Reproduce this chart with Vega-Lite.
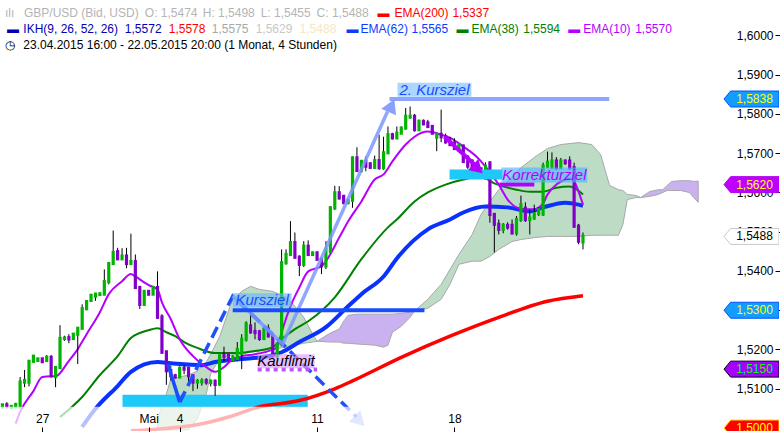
{
"$schema":"https://vega.github.io/schema/vega-lite/v6.json",
"width":780,"height":432,
"autosize":{"type":"fit","contains":"padding"},
"padding":0,
"background":"#ffffff",
"config":{"view":{"stroke":null},"font":"Liberation Sans"},
"resolve":{"scale":{"color":"independent","fill":"independent","stroke":"independent"}},
"datasets":{
"candles":[
{"i":0,"o":1.5056,"h":1.5061,"l":1.5049,"c":1.5059},
{"i":1,"o":1.5059,"h":1.5066,"l":1.5049,"c":1.5056},
{"i":2,"o":1.5053,"h":1.5057,"l":1.5049,"c":1.5055},
{"i":3,"o":1.5055,"h":1.5064,"l":1.5050,"c":1.5060},
{"i":4,"o":1.5054,"h":1.5130,"l":1.5050,"c":1.5117},
{"i":5,"o":1.5117,"h":1.5148,"l":1.5104,"c":1.5121},
{"i":6,"o":1.5117,"h":1.5172,"l":1.5106,"c":1.5170},
{"i":7,"o":1.5170,"h":1.5186,"l":1.5167,"c":1.5183},
{"i":8,"o":1.5172,"h":1.5179,"l":1.5170,"c":1.5176},
{"i":9,"o":1.5176,"h":1.5178,"l":1.5167,"c":1.5169},
{"i":10,"o":1.5172,"h":1.5186,"l":1.5169,"c":1.5180},
{"i":11,"o":1.5180,"h":1.5186,"l":1.5129,"c":1.5133},
{"i":12,"o":1.5131,"h":1.5154,"l":1.5104,"c":1.5154},
{"i":13,"o":1.5154,"h":1.5262,"l":1.5152,"c":1.5228},
{"i":14,"o":1.5228,"h":1.5235,"l":1.5222,"c":1.5229},
{"i":15,"o":1.5230,"h":1.5239,"l":1.5216,"c":1.5227},
{"i":16,"o":1.5228,"h":1.5242,"l":1.5226,"c":1.5239},
{"i":17,"o":1.5239,"h":1.5255,"l":1.5163,"c":1.5254},
{"i":18,"o":1.5254,"h":1.5315,"l":1.5252,"c":1.5304},
{"i":19,"o":1.5304,"h":1.5325,"l":1.5300,"c":1.5322},
{"i":20,"o":1.5325,"h":1.5341,"l":1.5323,"c":1.5338},
{"i":21,"o":1.5336,"h":1.5344,"l":1.5324,"c":1.5341},
{"i":22,"o":1.5340,"h":1.5344,"l":1.5338,"c":1.5342},
{"i":23,"o":1.5341,"h":1.5404,"l":1.5339,"c":1.5373},
{"i":24,"o":1.5373,"h":1.5421,"l":1.5366,"c":1.5419},
{"i":25,"o":1.5419,"h":1.5503,"l":1.5417,"c":1.5447},
{"i":26,"o":1.5449,"h":1.5459,"l":1.5430,"c":1.5431},
{"i":27,"o":1.5431,"h":1.5458,"l":1.5428,"c":1.5438},
{"i":28,"o":1.5438,"h":1.5459,"l":1.5407,"c":1.5419},
{"i":29,"o":1.5419,"h":1.5495,"l":1.5417,"c":1.5424},
{"i":30,"o":1.5424,"h":1.5442,"l":1.5356,"c":1.5358},
{"i":31,"o":1.5358,"h":1.5360,"l":1.5303,"c":1.5315},
{"i":32,"o":1.5315,"h":1.5349,"l":1.5311,"c":1.5348},
{"i":33,"o":1.5348,"h":1.5350,"l":1.5338,"c":1.5341},
{"i":34,"o":1.5341,"h":1.5360,"l":1.5339,"c":1.5358},
{"i":35,"o":1.5358,"h":1.5399,"l":1.5280,"c":1.5282},
{"i":36,"o":1.5283,"h":1.5290,"l":1.5190,"c":1.5193},
{"i":37,"o":1.5194,"h":1.5196,"l":1.5110,"c":1.5146},
{"i":38,"o":1.5146,"h":1.5159,"l":1.5121,"c":1.5133},
{"i":39,"o":1.5133,"h":1.5138,"l":1.5126,"c":1.5130},
{"i":40,"o":1.5130,"h":1.5157,"l":1.5128,"c":1.5152},
{"i":41,"o":1.5152,"h":1.5160,"l":1.5137,"c":1.5150},
{"i":42,"o":1.5152,"h":1.5155,"l":1.5112,"c":1.5133},
{"i":43,"o":1.5133,"h":1.5135,"l":1.5094,"c":1.5117},
{"i":44,"o":1.5117,"h":1.5125,"l":1.5100,"c":1.5119},
{"i":45,"o":1.5118,"h":1.5127,"l":1.5108,"c":1.5120},
{"i":46,"o":1.5121,"h":1.5127,"l":1.5110,"c":1.5117},
{"i":47,"o":1.5116,"h":1.5124,"l":1.5106,"c":1.5119},
{"i":48,"o":1.5119,"h":1.5124,"l":1.5082,"c":1.5111},
{"i":49,"o":1.5112,"h":1.5186,"l":1.5108,"c":1.5184},
{"i":50,"o":1.5185,"h":1.5207,"l":1.5170,"c":1.5182},
{"i":51,"o":1.5188,"h":1.5192,"l":1.5170,"c":1.5175},
{"i":52,"o":1.5175,"h":1.5186,"l":1.5170,"c":1.5180},
{"i":53,"o":1.5177,"h":1.5219,"l":1.5170,"c":1.5200},
{"i":54,"o":1.5190,"h":1.5239,"l":1.5150,"c":1.5226},
{"i":55,"o":1.5226,"h":1.5272,"l":1.5220,"c":1.5265},
{"i":56,"o":1.5260,"h":1.5295,"l":1.5240,"c":1.5245},
{"i":57,"o":1.5246,"h":1.5269,"l":1.5226,"c":1.5243},
{"i":58,"o":1.5245,"h":1.5250,"l":1.5222,"c":1.5228},
{"i":59,"o":1.5228,"h":1.5258,"l":1.5225,"c":1.5252},
{"i":60,"o":1.5252,"h":1.5264,"l":1.5230,"c":1.5235},
{"i":61,"o":1.5235,"h":1.5242,"l":1.5178,"c":1.5184},
{"i":62,"o":1.5184,"h":1.5218,"l":1.5176,"c":1.5214},
{"i":63,"o":1.5214,"h":1.5455,"l":1.5208,"c":1.5421},
{"i":64,"o":1.5421,"h":1.5455,"l":1.5416,"c":1.5442},
{"i":65,"o":1.5442,"h":1.5527,"l":1.5440,"c":1.5472},
{"i":66,"o":1.5472,"h":1.5498,"l":1.5432,"c":1.5435},
{"i":67,"o":1.5435,"h":1.5440,"l":1.5387,"c":1.5417},
{"i":68,"o":1.5417,"h":1.5476,"l":1.5410,"c":1.5463},
{"i":69,"o":1.5463,"h":1.5478,"l":1.5438,"c":1.5442},
{"i":70,"o":1.5442,"h":1.5449,"l":1.5440,"c":1.5446},
{"i":71,"o":1.5446,"h":1.5450,"l":1.5426,"c":1.5430},
{"i":72,"o":1.5430,"h":1.5434,"l":1.5392,"c":1.5413},
{"i":73,"o":1.5413,"h":1.5476,"l":1.5405,"c":1.5455},
{"i":74,"o":1.5450,"h":1.5565,"l":1.5445,"c":1.5561},
{"i":75,"o":1.5561,"h":1.5617,"l":1.5555,"c":1.5599},
{"i":76,"o":1.5599,"h":1.5616,"l":1.5582,"c":1.5586},
{"i":77,"o":1.5590,"h":1.5593,"l":1.5570,"c":1.5574},
{"i":78,"o":1.5574,"h":1.5584,"l":1.5570,"c":1.5580},
{"i":79,"o":1.5580,"h":1.5692,"l":1.5561,"c":1.5688},
{"i":80,"o":1.5688,"h":1.5715,"l":1.5652,"c":1.5656},
{"i":81,"o":1.5656,"h":1.5683,"l":1.5650,"c":1.5679},
{"i":82,"o":1.5679,"h":1.5692,"l":1.5654,"c":1.5667},
{"i":83,"o":1.5673,"h":1.5676,"l":1.5660,"c":1.5664},
{"i":84,"o":1.5664,"h":1.5694,"l":1.5660,"c":1.5681},
{"i":85,"o":1.5681,"h":1.5747,"l":1.5658,"c":1.5663},
{"i":86,"o":1.5663,"h":1.5742,"l":1.5658,"c":1.5701},
{"i":87,"o":1.5701,"h":1.5768,"l":1.5698,"c":1.5747},
{"i":88,"o":1.5747,"h":1.5752,"l":1.5735,"c":1.5739},
{"i":89,"o":1.5739,"h":1.5768,"l":1.5736,"c":1.5751},
{"i":90,"o":1.5751,"h":1.5768,"l":1.5749,"c":1.5764},
{"i":91,"o":1.5764,"h":1.5815,"l":1.5760,"c":1.5794},
{"i":92,"o":1.5792,"h":1.5819,"l":1.5788,"c":1.5794},
{"i":93,"o":1.5794,"h":1.5800,"l":1.5755,"c":1.5760},
{"i":94,"o":1.5760,"h":1.5786,"l":1.5756,"c":1.5781},
{"i":95,"o":1.5781,"h":1.5786,"l":1.5771,"c":1.5775},
{"i":96,"o":1.5777,"h":1.5785,"l":1.5765,"c":1.5768},
{"i":97,"o":1.5768,"h":1.5772,"l":1.5748,"c":1.5751},
{"i":98,"o":1.5741,"h":1.5752,"l":1.5705,"c":1.5748},
{"i":99,"o":1.5748,"h":1.5811,"l":1.5728,"c":1.5742},
{"i":100,"o":1.5742,"h":1.5750,"l":1.5724,"c":1.5729},
{"i":101,"o":1.5729,"h":1.5742,"l":1.5718,"c":1.5722},
{"i":102,"o":1.5726,"h":1.5738,"l":1.5708,"c":1.5712},
{"i":103,"o":1.5709,"h":1.5726,"l":1.5704,"c":1.5722},
{"i":104,"o":1.5718,"h":1.5722,"l":1.5675,"c":1.5679},
{"i":105,"o":1.5690,"h":1.5695,"l":1.5660,"c":1.5667},
{"i":106,"o":1.5680,"h":1.5684,"l":1.5652,"c":1.5658},
{"i":107,"o":1.5667,"h":1.5670,"l":1.5646,"c":1.5651},
{"i":108,"o":1.5660,"h":1.5664,"l":1.5640,"c":1.5645},
{"i":109,"o":1.5637,"h":1.5677,"l":1.5633,"c":1.5667},
{"i":110,"o":1.5675,"h":1.5680,"l":1.5523,"c":1.5544},
{"i":111,"o":1.5544,"h":1.5546,"l":1.5447,"c":1.5519},
{"i":112,"o":1.5519,"h":1.5531,"l":1.5493,"c":1.5506},
{"i":113,"o":1.5506,"h":1.5522,"l":1.5496,"c":1.5516},
{"i":114,"o":1.5516,"h":1.5524,"l":1.5505,"c":1.5512},
{"i":115,"o":1.5516,"h":1.5531,"l":1.5493,"c":1.5497},
{"i":116,"o":1.5497,"h":1.5540,"l":1.5490,"c":1.5531},
{"i":117,"o":1.5531,"h":1.5592,"l":1.5525,"c":1.5569},
{"i":118,"o":1.5560,"h":1.5575,"l":1.5525,"c":1.5531},
{"i":119,"o":1.5531,"h":1.5556,"l":1.5493,"c":1.5535},
{"i":120,"o":1.5535,"h":1.5569,"l":1.5530,"c":1.5546},
{"i":121,"o":1.5546,"h":1.5562,"l":1.5540,"c":1.5556},
{"i":122,"o":1.5545,"h":1.5676,"l":1.5540,"c":1.5667},
{"i":123,"o":1.5667,"h":1.5704,"l":1.5662,"c":1.5677},
{"i":124,"o":1.5665,"h":1.5702,"l":1.5660,"c":1.5680},
{"i":125,"o":1.5680,"h":1.5690,"l":1.5658,"c":1.5663},
{"i":126,"o":1.5663,"h":1.5688,"l":1.5660,"c":1.5680},
{"i":127,"o":1.5680,"h":1.5684,"l":1.5670,"c":1.5676},
{"i":128,"o":1.5680,"h":1.5692,"l":1.5658,"c":1.5663},
{"i":129,"o":1.5663,"h":1.5676,"l":1.5510,"c":1.5514},
{"i":130,"o":1.5514,"h":1.5520,"l":1.5468,"c":1.5476},
{"i":131,"o":1.5474,"h":1.5498,"l":1.5455,"c":1.5488}
],
"cloud":[
{"seg":"c2","kind":"g","i":35,"top":1.5023,"bot":1.4995},
{"seg":"c2","kind":"g","i":37,"top":1.5087,"bot":1.4995},
{"seg":"c2","kind":"g","i":38,"top":1.5125,"bot":1.4995},
{"seg":"c2","kind":"g","i":42,"top":1.5135,"bot":1.4995},
{"seg":"c2","kind":"g","i":44,"top":1.5145,"bot":1.5023},
{"seg":"c2","kind":"g","i":46,"top":1.5168,"bot":1.5087},
{"seg":"c2","kind":"g","i":47,"top":1.5188,"bot":1.5138},
{"seg":"c2","kind":"g","i":49,"top":1.5232,"bot":1.5176},
{"seg":"c2","kind":"g","i":51,"top":1.5298,"bot":1.5183},
{"seg":"c2","kind":"g","i":52,"top":1.5328,"bot":1.5186},
{"seg":"c2","kind":"g","i":54,"top":1.5348,"bot":1.5188},
{"seg":"c2","kind":"g","i":56,"top":1.5361,"bot":1.5193},
{"seg":"c2","kind":"g","i":58,"top":1.5353,"bot":1.5196},
{"seg":"c2","kind":"g","i":61,"top":1.5348,"bot":1.5201},
{"seg":"c2","kind":"g","i":64,"top":1.5333,"bot":1.5206},
{"seg":"c2","kind":"g","i":66,"top":1.5310,"bot":1.5211},
{"seg":"c2","kind":"g","i":68,"top":1.5282,"bot":1.5216},
{"seg":"c2","kind":"g","i":70,"top":1.5239,"bot":1.5219},
{"seg":"c2","kind":"g","i":71,"top":1.5221,"bot":1.5221},
{"seg":"c3","kind":"p","i":71,"top":1.5221,"bot":1.5221},
{"seg":"c3","kind":"p","i":74,"top":1.5242,"bot":1.5219},
{"seg":"c3","kind":"p","i":76,"top":1.5252,"bot":1.5219},
{"seg":"c3","kind":"p","i":77,"top":1.5272,"bot":1.5216},
{"seg":"c3","kind":"p","i":78,"top":1.5287,"bot":1.5216},
{"seg":"c3","kind":"p","i":80,"top":1.5290,"bot":1.5214},
{"seg":"c3","kind":"p","i":84,"top":1.5290,"bot":1.5211},
{"seg":"c3","kind":"p","i":86,"top":1.5290,"bot":1.5206},
{"seg":"c3","kind":"p","i":87,"top":1.5290,"bot":1.5211},
{"seg":"c3","kind":"p","i":88,"top":1.5290,"bot":1.5244},
{"seg":"c3","kind":"p","i":90,"top":1.5292,"bot":1.5259},
{"seg":"c3","kind":"p","i":92,"top":1.5295,"bot":1.5282},
{"seg":"c3","kind":"p","i":93,"top":1.5298,"bot":1.5298},
{"seg":"c4","kind":"g","i":93,"top":1.5298,"bot":1.5298},
{"seg":"c4","kind":"g","i":96,"top":1.5328,"bot":1.5305},
{"seg":"c4","kind":"g","i":99,"top":1.5366,"bot":1.5328},
{"seg":"c4","kind":"g","i":101,"top":1.5404,"bot":1.5366},
{"seg":"c4","kind":"g","i":103,"top":1.5442,"bot":1.5417},
{"seg":"c4","kind":"g","i":106,"top":1.5493,"bot":1.5425},
{"seg":"c4","kind":"g","i":108,"top":1.5544,"bot":1.5425},
{"seg":"c4","kind":"g","i":110,"top":1.5577,"bot":1.5437},
{"seg":"c4","kind":"g","i":112,"top":1.5607,"bot":1.5455},
{"seg":"c4","kind":"g","i":115,"top":1.5640,"bot":1.5475},
{"seg":"c4","kind":"g","i":117,"top":1.5663,"bot":1.5480},
{"seg":"c4","kind":"g","i":120,"top":1.5689,"bot":1.5485},
{"seg":"c4","kind":"g","i":123,"top":1.5712,"bot":1.5488},
{"seg":"c4","kind":"g","i":126,"top":1.5722,"bot":1.5488},
{"seg":"c4","kind":"g","i":130,"top":1.5727,"bot":1.5488},
{"seg":"c4","kind":"g","i":133,"top":1.5722,"bot":1.5491},
{"seg":"c4","kind":"g","i":135,"top":1.5696,"bot":1.5491},
{"seg":"c4","kind":"g","i":137,"top":1.5618,"bot":1.5491},
{"seg":"c4","kind":"g","i":139,"top":1.5607,"bot":1.5491},
{"seg":"c4","kind":"g","i":140,"top":1.5605,"bot":1.5518},
{"seg":"c4","kind":"g","i":141,"top":1.5595,"bot":1.5582},
{"seg":"c4","kind":"g","i":143,"top":1.5592,"bot":1.5587},
{"seg":"c4","kind":"g","i":144,"top":1.5587,"bot":1.5587},
{"seg":"c5","kind":"p","i":144,"top":1.5587,"bot":1.5587},
{"seg":"c5","kind":"p","i":146,"top":1.5602,"bot":1.5590},
{"seg":"c5","kind":"p","i":148,"top":1.5607,"bot":1.5595},
{"seg":"c5","kind":"p","i":149,"top":1.5607,"bot":1.5600},
{"seg":"c5","kind":"p","i":150,"top":1.5618,"bot":1.5605},
{"seg":"c5","kind":"p","i":151,"top":1.5628,"bot":1.5605},
{"seg":"c5","kind":"p","i":153,"top":1.5630,"bot":1.5605},
{"seg":"c5","kind":"p","i":155,"top":1.5630,"bot":1.5600},
{"seg":"c5","kind":"p","i":156,"top":1.5628,"bot":1.5587},
{"seg":"c5","kind":"p","i":157,"top":1.5629,"bot":1.5575}
],
"e10":[
{"i":3,"p":1.5011},{"i":4,"p":1.5041},{"i":7,"p":1.5094},{"i":9,"p":1.5130},{"i":11,"p":1.5132},{"i":12,"p":1.5132},{"i":15,"p":1.5171},{"i":17,"p":1.5201},{"i":19,"p":1.5239},{"i":22,"p":1.5295},{"i":24,"p":1.5341},{"i":27,"p":1.5374},{"i":29,"p":1.5392},{"i":30,"p":1.5386},{"i":32,"p":1.5371},{"i":33,"p":1.5364},{"i":35,"p":1.5353},{"i":36,"p":1.5320},{"i":38,"p":1.5277},{"i":40,"p":1.5226},{"i":43,"p":1.5183},{"i":46,"p":1.5155},{"i":48,"p":1.5143},{"i":50,"p":1.5155},{"i":52,"p":1.5176},{"i":54,"p":1.5183},{"i":57,"p":1.5188},{"i":60,"p":1.5196},{"i":62,"p":1.5206},{"i":63,"p":1.5244},{"i":65,"p":1.5310},{"i":67,"p":1.5358},{"i":69,"p":1.5399},{"i":72,"p":1.5412},{"i":73,"p":1.5425},{"i":76,"p":1.5485},{"i":78,"p":1.5526},{"i":81,"p":1.5577},{"i":84,"p":1.5633},{"i":86,"p":1.5646},{"i":88,"p":1.5679},{"i":91,"p":1.5722},{"i":93,"p":1.5742},{"i":96,"p":1.5755},{"i":99,"p":1.5747},{"i":101,"p":1.5739},{"i":104,"p":1.5717},{"i":107,"p":1.5691},{"i":109,"p":1.5666},{"i":112,"p":1.5620},{"i":114,"p":1.5582},{"i":116,"p":1.5562},{"i":118,"p":1.5557},{"i":120,"p":1.5557},{"i":122,"p":1.5572},{"i":123,"p":1.5595},{"i":125,"p":1.5620},{"i":127,"p":1.5633},{"i":128,"p":1.5635},{"i":129,"p":1.5628},{"i":130,"p":1.5602},{"i":131,"p":1.5569}
],
"e38":[
{"i":13,"p":1.5028},{"i":18,"p":1.5079},{"i":22,"p":1.5135},{"i":26,"p":1.5183},{"i":29,"p":1.5229},{"i":33,"p":1.5249},{"i":35,"p":1.5254},{"i":37,"p":1.5244},{"i":39,"p":1.5234},{"i":41,"p":1.5219},{"i":44,"p":1.5204},{"i":48,"p":1.5191},{"i":53,"p":1.5191},{"i":57,"p":1.5196},{"i":61,"p":1.5206},{"i":63,"p":1.5226},{"i":66,"p":1.5252},{"i":69,"p":1.5272},{"i":75,"p":1.5333},{"i":81,"p":1.5430},{"i":87,"p":1.5511},{"i":89,"p":1.5531},{"i":93,"p":1.5577},{"i":96,"p":1.5600},{"i":100,"p":1.5620},{"i":104,"p":1.5633},{"i":108,"p":1.5640},{"i":111,"p":1.5623},{"i":116,"p":1.5607},{"i":119,"p":1.5602},{"i":122,"p":1.5602},{"i":125,"p":1.5612},{"i":128,"p":1.5615},{"i":131,"p":1.5595}
],
"e62":[
{"i":18,"p":1.5003},{"i":21,"p":1.5049},{"i":26,"p":1.5107},{"i":29,"p":1.5143},{"i":35,"p":1.5168},{"i":38,"p":1.5165},{"i":45,"p":1.5160},{"i":48,"p":1.5168},{"i":54,"p":1.5176},{"i":60,"p":1.5183},{"i":63,"p":1.5193},{"i":67,"p":1.5219},{"i":73,"p":1.5257},{"i":78,"p":1.5310},{"i":81,"p":1.5341},{"i":86,"p":1.5386},{"i":89,"p":1.5432},{"i":96,"p":1.5506},{"i":101,"p":1.5531},{"i":104,"p":1.5549},{"i":109,"p":1.5564},{"i":114,"p":1.5562},{"i":119,"p":1.5552},{"i":122,"p":1.5562},{"i":127,"p":1.5574},{"i":130,"p":1.5569},{"i":131,"p":1.5566}
],
"e200":[
{"i":29,"p":1.4993},{"i":45,"p":1.5011},{"i":51,"p":1.5028},{"i":58,"p":1.5054},{"i":67,"p":1.5070},{"i":75,"p":1.5100},{"i":79,"p":1.5120},{"i":90,"p":1.5180},{"i":101,"p":1.5234},{"i":112,"p":1.5282},{"i":123,"p":1.5323},{"i":131,"p":1.5337}
],
"hdr":[
{"i":0.59,"p":1.60462,"t":"ılı","g":"gray"},
{"i":4.87,"p":1.60462,"t":"GBP/USD (Bid, USD)","g":"gray"},
{"i":32.13,"p":1.60462,"t":"O: 1,5474","g":"gray"},
{"i":45.20,"p":1.60462,"t":"H: 1,5498","g":"gray"},
{"i":58.27,"p":1.60462,"t":"L: 1,5455","g":"gray"},
{"i":70.90,"p":1.60462,"t":"C: 1,5488","g":"gray"},
{"i":84.64,"p":1.60462,"t":"▬","g":"red"},
{"i":88.47,"p":1.60462,"t":"EMA(200)","g":"red"},
{"i":101.54,"p":1.60462,"t":"1,5337","g":"red"},
{"i":1.04,"p":1.60056,"t":"▬","g":"navy"},
{"i":4.72,"p":1.60056,"t":"IKH(9, 26, 52, 26)","g":"navy"},
{"i":27.63,"p":1.60056,"t":"1,5572","g":"navy"},
{"i":37.54,"p":1.60056,"t":"1,5578","g":"red"},
{"i":47.23,"p":1.60056,"t":"1,5575","g":"gray2"},
{"i":57.15,"p":1.60056,"t":"1,5629","g":"gray3"},
{"i":67.06,"p":1.60056,"t":"1,5488","g":"beige"},
{"i":77.65,"p":1.60056,"t":"▬","g":"blue"},
{"i":80.81,"p":1.60056,"t":"EMA(62)","g":"blue"},
{"i":92.30,"p":1.60056,"t":"1,5565","g":"blue"},
{"i":102.44,"p":1.60056,"t":"▬","g":"green"},
{"i":105.82,"p":1.60056,"t":"EMA(38)","g":"green"},
{"i":117.54,"p":1.60056,"t":"1,5594","g":"green"},
{"i":127.68,"p":1.60056,"t":"▬","g":"purple"},
{"i":131.06,"p":1.60056,"t":"EMA(10)","g":"purple"},
{"i":142.78,"p":1.60056,"t":"1,5570","g":"purple"},
{"i":0.59,"p":1.59649,"t":"◷","g":"black"},
{"i":4.72,"p":1.59649,"t":"23.04.2015 16:00 - 22.05.2015 20:00 (1 Monat, 4 Stunden)","g":"black"}
],
"tags":[
{"p":1.5838,"label":"1,5838","t":"blue"},
{"p":1.5620,"label":"1,5620","t":"mag"},
{"p":1.5488,"label":"1,5488","t":"white"},
{"p":1.5300,"label":"1,5300","t":"blue"},
{"p":1.5150,"label":"1,5150","t":"violet"},
{"p":1.5000,"label":"1,5000","t":"red"}
]
},
"layer":[
{"data":{"name":"cloud"},
 "mark":{"type":"area","stroke":"#a8a8a8","strokeWidth":1,"clip":true},
 "encoding":{
  "x":{"field":"i","type":"quantitative","scale":{"domain":[-0.54,175.23],"nice":false,"zero":false},"title":null,
   "axis":{"orient":"top","offset":-432,"values":[9,33,40,71,102],"labelExpr":"datum.value == 9 ? '27' : datum.value == 33 ? 'Mai' : datum.value == 40 ? '4' : datum.value == 71 ? '11' : '18'","domain":false,"grid":false,"ticks":true,"tickSize":5,"tickColor":"#000000","labelColor":"#000000","labelFont":"Liberation Sans","labelFontSize":12,"labelPadding":2,"labelFlush":false,"labelOverlap":false,"zindex":1}},
  "y":{"field":"top","type":"quantitative","scale":{"domain":[1.49924,1.60902],"nice":false,"zero":false},"title":null,
   "axis":{"orient":"left","offset":-780,"values":[1.51,1.52,1.53,1.54,1.55,1.56,1.57,1.58,1.59,1.6],"labelExpr":"replace(format(datum.value, '.4f'), '.', ',')","domain":false,"grid":false,"tickSize":5,"tickColor":"#000000","labelColor":"#000000","labelFont":"Liberation Sans","labelFontSize":12,"labelPadding":2,"labelOverlap":false,"zindex":0}},
  "y2":{"field":"bot"},
  "color":{"field":"kind","type":"nominal","scale":{"domain":["g","p"],"range":["#bddcc5","#c9b2ef"]},"legend":null},
  "detail":{"field":"seg"}}},
{"data":{"values":[{"i":27.1,"i2":68.9,"p":1.5085,"p2":1.5053}]},
 "mark":{"type":"rect","color":"#1ec8f8"},
 "encoding":{"x":{"field":"i","type":"quantitative","scale":{"domain":[-0.54,175.23],"nice":false,"zero":false},"title":null},"x2":{"field":"i2"},
  "y":{"field":"p","type":"quantitative","scale":{"domain":[1.49924,1.60902],"nice":false,"zero":false},"title":null},"y2":{"field":"p2"}}},
{"data":{"name":"e200"},"mark":{"type":"line","color":"#ff0000","strokeWidth":3.5,"interpolate":"monotone","clip":true},
 "encoding":{"x":{"field":"i","type":"quantitative","scale":{"domain":[-0.54,175.23],"nice":false,"zero":false},"title":null},"y":{"field":"p","type":"quantitative","scale":{"domain":[1.49924,1.60902],"nice":false,"zero":false},"title":null}}},
{"data":{"name":"e62"},"mark":{"type":"line","color":"#0a32ff","strokeWidth":4,"interpolate":"monotone","clip":true},
 "encoding":{"x":{"field":"i","type":"quantitative","scale":{"domain":[-0.54,175.23],"nice":false,"zero":false},"title":null},"y":{"field":"p","type":"quantitative","scale":{"domain":[1.49924,1.60902],"nice":false,"zero":false},"title":null}}},
{"data":{"name":"e38"},"mark":{"type":"line","color":"#008000","strokeWidth":2,"interpolate":"monotone","clip":true},
 "encoding":{"x":{"field":"i","type":"quantitative","scale":{"domain":[-0.54,175.23],"nice":false,"zero":false},"title":null},"y":{"field":"p","type":"quantitative","scale":{"domain":[1.49924,1.60902],"nice":false,"zero":false},"title":null}}},
{"data":{"name":"e10"},"mark":{"type":"line","color":"#b400ff","strokeWidth":2,"interpolate":"monotone","clip":true},
 "encoding":{"x":{"field":"i","type":"quantitative","scale":{"domain":[-0.54,175.23],"nice":false,"zero":false},"title":null},"y":{"field":"p","type":"quantitative","scale":{"domain":[1.49924,1.60902],"nice":false,"zero":false},"title":null}}},
{"data":{"name":"candles"},"mark":{"type":"rule","color":"#000000","strokeWidth":1},
 "encoding":{"x":{"field":"i","type":"quantitative","scale":{"domain":[-0.54,175.23],"nice":false,"zero":false},"title":null},"y":{"field":"l","type":"quantitative","scale":{"domain":[1.49924,1.60902],"nice":false,"zero":false},"title":null},"y2":{"field":"h"}}},
{"data":{"name":"candles"},"mark":{"type":"rule","strokeWidth":3.2,"strokeCap":"square"},
 "encoding":{"x":{"field":"i","type":"quantitative","scale":{"domain":[-0.54,175.23],"nice":false,"zero":false},"title":null},"y":{"field":"o","type":"quantitative","scale":{"domain":[1.49924,1.60902],"nice":false,"zero":false},"title":null},"y2":{"field":"c"},
  "color":{"condition":{"test":"datum.c >= datum.o","value":"#00b400"},"value":"#8000c8"}}},
{"data":{"values":[{"i":37.32,"p":1.5163},{"i":40.02,"p":1.5066}]},"mark":{"type":"line","color":"#1a4cff","strokeWidth":3.5},
 "encoding":{"x":{"field":"i","type":"quantitative","scale":{"domain":[-0.54,175.23],"nice":false,"zero":false},"title":null},"y":{"field":"p","type":"quantitative","scale":{"domain":[1.49924,1.60902],"nice":false,"zero":false},"title":null}}},
{"data":{"values":[{"i":40.02,"p":1.5066},{"i":51.97,"p":1.5336},{"i":63.23,"p":1.5214},{"i":79.91,"p":1.5028}]},"mark":{"type":"line","color":"#1f4fff","strokeWidth":3.5,"strokeDash":[12,6]},
 "encoding":{"x":{"field":"i","type":"quantitative","scale":{"domain":[-0.54,175.23],"nice":false,"zero":false},"title":null},"y":{"field":"p","type":"quantitative","scale":{"domain":[1.49924,1.60902],"nice":false,"zero":false},"title":null}}},
{"data":{"values":[{"i":51.97,"p":1.5336},{"i":63.23,"p":1.5214},{"i":86.9,"p":1.5806}]},"mark":{"type":"line","color":"#7d96ff","strokeWidth":3.5,"opacity":0.85},
 "encoding":{"x":{"field":"i","type":"quantitative","scale":{"domain":[-0.54,175.23],"nice":false,"zero":false},"title":null},"y":{"field":"p","type":"quantitative","scale":{"domain":[1.49924,1.60902],"nice":false,"zero":false},"title":null}}},
{"data":{"values":[{"i":87.34,"i2":136.92,"p":1.5838}]},"mark":{"type":"rule","color":"#8ca5ff","strokeWidth":4},
 "encoding":{"x":{"field":"i","type":"quantitative","scale":{"domain":[-0.54,175.23],"nice":false,"zero":false},"title":null},"x2":{"field":"i2"},"y":{"field":"p","type":"quantitative","scale":{"domain":[1.49924,1.60902],"nice":false,"zero":false},"title":null}}},
{"data":{"values":[{"i":51.97,"i2":95.23,"p":1.5300}]},"mark":{"type":"rule","color":"#1a4cff","strokeWidth":4},
 "encoding":{"x":{"field":"i","type":"quantitative","scale":{"domain":[-0.54,175.23],"nice":false,"zero":false},"title":null},"x2":{"field":"i2"},"y":{"field":"p","type":"quantitative","scale":{"domain":[1.49924,1.60902],"nice":false,"zero":false},"title":null}}},
{"data":{"values":[{"i":100.9,"i2":112.8,"p":1.5646}]},"mark":{"type":"rule","color":"#1ec8f8","strokeWidth":10},
 "encoding":{"x":{"field":"i","type":"quantitative","scale":{"domain":[-0.54,175.23],"nice":false,"zero":false},"title":null},"x2":{"field":"i2"},"y":{"field":"p","type":"quantitative","scale":{"domain":[1.49924,1.60902],"nice":false,"zero":false},"title":null}}},
{"data":{"values":[{"i":112.13,"i2":120.02,"p":1.5620}]},"mark":{"type":"rule","color":"#b400ff","strokeWidth":4},
 "encoding":{"x":{"field":"i","type":"quantitative","scale":{"domain":[-0.54,175.23],"nice":false,"zero":false},"title":null},"x2":{"field":"i2"},"y":{"field":"p","type":"quantitative","scale":{"domain":[1.49924,1.60902],"nice":false,"zero":false},"title":null}}},
{"data":{"values":[{"i":57.6,"i2":71.0,"p":1.5149}]},"mark":{"type":"rule","color":"#c050ff","strokeWidth":4,"strokeDash":[4,4]},
 "encoding":{"x":{"field":"i","type":"quantitative","scale":{"domain":[-0.54,175.23],"nice":false,"zero":false},"title":null},"x2":{"field":"i2"},"y":{"field":"p","type":"quantitative","scale":{"domain":[1.49924,1.60902],"nice":false,"zero":false},"title":null}}},
{"data":{"values":[{"i":99.74,"p":1.5742},{"i":107.0,"p":1.5666}]},"mark":{"type":"line","color":"#b400ff","strokeWidth":4},
 "encoding":{"x":{"field":"i","type":"quantitative","scale":{"domain":[-0.54,175.23],"nice":false,"zero":false},"title":null},"y":{"field":"p","type":"quantitative","scale":{"domain":[1.49924,1.60902],"nice":false,"zero":false},"title":null}}},
{"data":{"values":[{"i":87.8,"p":1.5821}]},"mark":{"type":"point","shape":"triangle-up","angle":24,"size":260,"filled":true,"opacity":0.9,"color":"#7d96ff"},
 "encoding":{"x":{"field":"i","type":"quantitative","scale":{"domain":[-0.54,175.23],"nice":false,"zero":false},"title":null},"y":{"field":"p","type":"quantitative","scale":{"domain":[1.49924,1.60902],"nice":false,"zero":false},"title":null}}},
{"data":{"values":[{"i":80.6,"p":1.5018}]},"mark":{"type":"point","shape":"triangle-up","angle":135,"size":260,"filled":true,"opacity":0.6,"color":"#5078ff"},
 "encoding":{"x":{"field":"i","type":"quantitative","scale":{"domain":[-0.54,175.23],"nice":false,"zero":false},"title":null},"y":{"field":"p","type":"quantitative","scale":{"domain":[1.49924,1.60902],"nice":false,"zero":false},"title":null}}},
{"data":{"values":[{"i":107.3,"p":1.5660}]},"mark":{"type":"point","shape":"triangle-up","angle":133,"size":220,"filled":true,"opacity":1,"color":"#b400ff"},
 "encoding":{"x":{"field":"i","type":"quantitative","scale":{"domain":[-0.54,175.23],"nice":false,"zero":false},"title":null},"y":{"field":"p","type":"quantitative","scale":{"domain":[1.49924,1.60902],"nice":false,"zero":false},"title":null}}},
{"data":{"values":[
  {"n":"k1","i":51.97,"i2":65.26,"p":1.53431,"p2":1.53075},
  {"n":"k2","i":89.15,"i2":105.82,"p":1.58793,"p2":1.58437},
  {"n":"kz","i":112.58,"i2":131.96,"p":1.56633,"p2":1.56251},
  {"n":"kl","i":57.6,"i2":70.44,"p":1.51880,"p2":1.51525}]},
 "mark":{"type":"rect","opacity":0.65},
 "encoding":{"x":{"field":"i","type":"quantitative","scale":{"domain":[-0.54,175.23],"nice":false,"zero":false},"title":null},"x2":{"field":"i2"},
  "y":{"field":"p","type":"quantitative","scale":{"domain":[1.49924,1.60902],"nice":false,"zero":false},"title":null},"y2":{"field":"p2"},
  "color":{"field":"n","type":"nominal","scale":{"domain":["k1","k2","kz","kl"],"range":["#6cb6ff","#7cc0ff","#4fb4ff","#dc9cff"]},"legend":null}}},
{"data":{"values":[
  {"n":"k1","i":58.6,"p":1.53253,"t":"Kursziel"},
  {"n":"k2","i":97.5,"p":1.58615,"t":"2. Kursziel"},
  {"n":"kz","i":122.3,"p":1.56442,"t":"Korrekturziel"},
  {"n":"kl","i":64.0,"p":1.51702,"t":"Kauflimit"}]},
 "mark":{"type":"text","align":"center","baseline":"middle","fontStyle":"italic","fontSize":15,"font":"Liberation Sans"},
 "encoding":{"x":{"field":"i","type":"quantitative","scale":{"domain":[-0.54,175.23],"nice":false,"zero":false},"title":null},
  "y":{"field":"p","type":"quantitative","scale":{"domain":[1.49924,1.60902],"nice":false,"zero":false},"title":null},
  "text":{"field":"t"},
  "color":{"field":"n","type":"nominal","scale":{"domain":["k1","k2","kz","kl"],"range":["#1a4cff","#1a4cff","#b400ff","#000000"]},"legend":null}}},
{"data":{"values":[{}]},
 "mark":{"type":"rect","color":"#ffffff","opacity":0.7},
 "encoding":{"y":{"datum":1.49924,"type":"quantitative","scale":{"domain":[1.49924,1.60902],"nice":false,"zero":false},"title":null},"y2":{"datum":1.5054}}},
{"data":{"name":"tags"},
 "mark":{"type":"point","shape":"M -1 0 L -0.76 -0.29 L 1 -0.29 L 1 0.29 L -0.76 0.29 Z","size":3025,"filled":true,"opacity":1,"strokeWidth":1,"clip":true},
 "encoding":{"x":{"datum":169.03,"type":"quantitative","scale":{"domain":[-0.54,175.23],"nice":false,"zero":false},"title":null},
  "y":{"field":"p","type":"quantitative","scale":{"domain":[1.49924,1.60902],"nice":false,"zero":false},"title":null},
  "fill":{"field":"t","type":"nominal","scale":{"domain":["blue","mag","white","violet","red"],"range":["#139dff","#c000ff","#ffffff","#a400ff","#ff0000"]},"legend":null},
  "stroke":{"field":"t","type":"nominal","scale":{"domain":["blue","mag","white","violet","red"],"range":["#0050ff","#b000f0","#c8c8c8","#000000","#ffd700"]},"legend":null}}},
{"data":{"name":"tags"},
 "mark":{"type":"text","align":"center","baseline":"middle","fontSize":12,"font":"Liberation Sans","clip":true},
 "encoding":{"x":{"datum":169.71,"type":"quantitative","scale":{"domain":[-0.54,175.23],"nice":false,"zero":false},"title":null},
  "y":{"field":"p","type":"quantitative","scale":{"domain":[1.49924,1.60902],"nice":false,"zero":false},"title":null},
  "text":{"field":"label"},
  "color":{"field":"t","type":"nominal","scale":{"domain":["blue","mag","white","violet","red"],"range":["#ffff00","#ffff00","#000000","#00ff00","#ffff00"]},"legend":null}}},
{"data":{"name":"hdr"},
 "mark":{"type":"text","align":"left","baseline":"alphabetic","fontSize":12,"font":"Liberation Sans"},
 "encoding":{"x":{"field":"i","type":"quantitative","scale":{"domain":[-0.54,175.23],"nice":false,"zero":false},"title":null},
  "y":{"field":"p","type":"quantitative","scale":{"domain":[1.49924,1.60902],"nice":false,"zero":false},"title":null},
  "text":{"field":"t"},
  "color":{"field":"g","type":"nominal","scale":{"domain":["gray","red","navy","gray2","gray3","beige","blue","green","purple","black"],"range":["#b4b4b4","#ff0000","#0000b4","#a8a8a8","#c8c8c8","#f5e6c8","#0a3cff","#008000","#b400ff","#000000"]},"legend":null}}}
]
}
